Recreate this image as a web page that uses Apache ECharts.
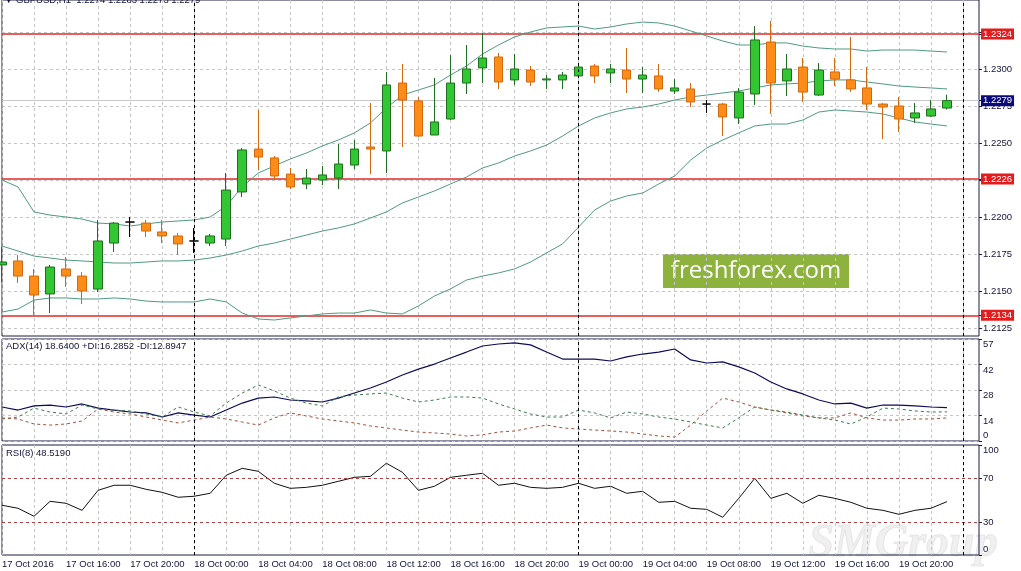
<!DOCTYPE html>
<html>
<head>
<meta charset="utf-8">
<script src="https://cdn.jsdelivr.net/npm/echarts/dist/echarts.min.js"></script>
<style>
  html, body { margin: 0; padding: 0; background: #fff; }
  #chart { width: 1021px; height: 571px; }
</style>
</head>
<body>
<div id="chart"></div>
<script>
// GBPUSD H1, 17 Oct 12:00 .. 19 Oct 23:00
var opens  = [1.21680,1.21707,1.21605,1.21484,1.21653,1.21605,1.21517,1.21828,1.21970,1.21963,
              1.21903,1.21876,1.21842,1.21828,1.21855,1.22173,1.22463,1.22403,1.22294,1.22227,
              1.22254,1.22267,1.22355,1.22477,1.22450,1.22909,1.22788,1.22558,1.22666,1.22909,
              1.23011,1.23085,1.22930,1.22997,1.22930,1.22930,1.22957,1.23024,1.22977,1.22997,
              1.22936,1.22957,1.22855,1.22869,1.22767,1.22767,1.22673,1.22835,1.23186,1.22923,
              1.23017,1.22828,1.22984,1.22930,1.22876,1.22767,1.22754,1.22673,1.22686,1.22740];
var highs  = [1.21801,1.21747,1.21653,1.21680,1.21734,1.21632,1.21984,1.21970,1.22004,1.21984,
              1.21984,1.21896,1.21930,1.21889,1.22301,1.22470,1.22727,1.22416,1.22335,1.22328,
              1.22348,1.22497,1.22524,1.22774,1.22984,1.23038,1.22815,1.22943,1.23098,1.23166,
              1.23247,1.23112,1.23105,1.23024,1.22963,1.22984,1.23024,1.23038,1.23038,1.23146,
              1.23017,1.23038,1.22936,1.22909,1.22794,1.22774,1.22875,1.23294,1.23328,1.23105,
              1.23078,1.23044,1.23078,1.23220,1.23017,1.22774,1.22815,1.22774,1.22794,1.22830];
var lows   = [1.21565,1.21558,1.21342,1.21355,1.21531,1.21416,1.21497,1.21767,1.21869,1.21869,
              1.21828,1.21747,1.21761,1.21808,1.21808,1.22139,1.22321,1.22254,1.22193,1.22193,
              1.22220,1.22193,1.22328,1.22294,1.22301,1.22477,1.22544,1.22558,1.22659,1.22835,
              1.22909,1.22869,1.22896,1.22889,1.22869,1.22869,1.22950,1.22909,1.22909,1.22842,
              1.22842,1.22849,1.22835,1.22747,1.22707,1.22551,1.22632,1.22761,1.22700,1.22821,
              1.22781,1.22821,1.22889,1.22849,1.22727,1.22531,1.22578,1.22639,1.22680,1.22730];
var closes = [1.21700,1.21605,1.21477,1.21666,1.21605,1.21504,1.21842,1.21963,1.21970,1.21909,
              1.21876,1.21822,1.21842,1.21876,1.22186,1.22457,1.22409,1.22281,1.22207,1.22267,
              1.22288,1.22362,1.22463,1.22463,1.22896,1.22794,1.22551,1.22646,1.22909,1.23004,
              1.23078,1.22916,1.23004,1.22916,1.22937,1.22963,1.23017,1.22957,1.23004,1.22936,
              1.22963,1.22869,1.22876,1.22781,1.22767,1.22680,1.22848,1.23200,1.22909,1.23004,
              1.22848,1.22997,1.22936,1.22869,1.22767,1.22747,1.22666,1.22707,1.22734,1.22790];

var bbUpper  = [1.22254,1.22207,1.22038,1.22017,1.22004,1.21990,1.21963,1.21957,1.21943,1.21957,
                1.21970,1.21977,1.21984,1.22004,1.22078,1.22207,1.22301,1.22349,1.22396,1.22436,
                1.22484,1.22524,1.22572,1.22639,1.22740,1.22828,1.22862,1.22896,1.22963,1.23024,
                1.23105,1.23166,1.23220,1.23254,1.23281,1.23288,1.23294,1.23274,1.23288,1.23308,
                1.23321,1.23315,1.23294,1.23261,1.23227,1.23193,1.23166,1.23166,1.23180,1.23180,
                1.23159,1.23146,1.23139,1.23139,1.23125,1.23132,1.23132,1.23132,1.23125,1.23119];
var bbMiddle = [1.21808,1.21774,1.21740,1.21727,1.21713,1.21707,1.21700,1.21693,1.21693,1.21700,
                1.21707,1.21707,1.21713,1.21727,1.21747,1.21774,1.21808,1.21828,1.21855,1.21882,
                1.21909,1.21930,1.21957,1.21997,1.22038,1.22099,1.22139,1.22180,1.22227,1.22274,
                1.22335,1.22369,1.22416,1.22450,1.22490,1.22551,1.22619,1.22673,1.22707,1.22734,
                1.22747,1.22767,1.22794,1.22815,1.22828,1.22842,1.22855,1.22876,1.22896,1.22903,
                1.22909,1.22923,1.22930,1.22930,1.22916,1.22903,1.22889,1.22882,1.22876,1.22869];
var bbLower  = [1.21362,1.21382,1.21443,1.21457,1.21457,1.21450,1.21450,1.21457,1.21450,1.21436,
                1.21430,1.21430,1.21430,1.21450,1.21430,1.21355,1.21315,1.21308,1.21322,1.21335,
                1.21349,1.21355,1.21355,1.21376,1.21355,1.21349,1.21403,1.21470,1.21518,1.21578,
                1.21605,1.21626,1.21653,1.21700,1.21761,1.21822,1.21936,1.22051,1.22112,1.22146,
                1.22166,1.22227,1.22281,1.22389,1.22470,1.22524,1.22572,1.22619,1.22632,1.22632,
                1.22659,1.22713,1.22727,1.22720,1.22713,1.22700,1.22673,1.22646,1.22632,1.22619];

var adx     = [19.0,17.3,19.6,20.1,19.0,20.7,18.4,17.3,16.2,15.7,13.4,15.7,14.5,13.4,17.3,21.2,24.0,24.6,22.9,22.4,
               21.8,24.0,26.8,29.6,33.0,36.9,40.2,43.0,46.4,49.7,53.1,54.2,54.8,53.7,49.7,45.8,45.8,45.8,44.7,47.0,
               48.6,49.7,51.4,45.3,43.6,44.2,41.4,38.0,33.0,29.1,26.3,22.9,20.7,21.2,18.4,20.1,20.1,19.6,19.0,18.64];
var plusDI  = [12.3,13.4,18.4,16.2,15.1,20.1,17.9,17.3,16.8,15.1,13.4,19.0,16.2,14.0,21.2,26.8,31.3,28.0,24.0,21.2,
               19.6,24.6,25.7,26.3,26.8,24.0,21.8,22.9,24.6,24.6,24.0,20.7,17.9,15.1,13.4,13.4,17.3,15.7,12.9,16.2,
               15.1,13.4,12.3,10.6,8.9,7.3,12.9,19.0,17.3,16.2,14.5,12.9,11.7,9.5,13.4,18.4,17.9,16.8,16.2,16.29];
var minusDI = [12.9,12.3,9.5,8.9,9.5,11.2,17.9,16.2,15.1,13.4,11.7,10.1,11.7,13.4,12.3,10.6,8.9,12.9,15.7,14.0,
               12.3,11.2,10.1,8.4,7.3,6.1,5.0,4.5,3.9,2.8,3.4,5.0,5.6,7.3,8.9,7.3,6.7,6.1,5.6,5.0,
               3.9,2.8,2.2,8.9,16.8,24.0,21.8,19.0,17.3,15.7,14.0,12.9,12.9,15.7,12.9,11.7,11.7,12.3,12.3,12.89];
var rsi     = [45.2,42.5,35.2,48.8,47.0,40.6,58.8,63.4,63.4,59.7,57.0,52.5,53.4,56.1,72.5,78.8,76.1,65.2,60.6,61.5,
               63.4,67.0,70.6,71.5,83.4,75.2,58.8,62.5,70.6,72.5,74.3,63.4,65.2,61.5,60.6,61.5,65.2,60.6,62.5,56.1,
               57.9,47.9,48.8,42.5,41.5,34.3,51.5,69.7,51.5,56.1,47.0,54.3,51.5,47.9,42.5,40.6,37.0,40.6,42.5,48.52];

var levels = [1.2324, 1.2226, 1.2134];
var bid = [1.2279];
var priceTicks = [1.2125, 1.2150, 1.2175, 1.2200, 1.2225, 1.2250, 1.2275, 1.2300, 1.2325];
var adxTicks = [0, 14.25, 28.5, 42.75, 57];
var rsiTicks = [0, 30, 70, 100];
var rsiLevels = [70, 30];
var days = ['17 Oct', '18 Oct', '19 Oct', '20 Oct'];
var daySeparators = ['18 Oct 00:00', '19 Oct 00:00', '20 Oct 00:00'];

// hourly slots, two empty ones at the right (chart shift)
var times = [];
for (var k = 0; k < 62; k++) {
    var h = 12 + k;
    var hh = h % 24;
    times.push(days[Math.floor(h / 24)] + ' ' + (hh < 10 ? '0' : '') + hh + ':00');
}

var candles = opens.map(function (o, i) {
    return [o, closes[i], lows[i], highs[i]];
});

var fontFamily = 'Liberation Sans';
var textColor = '#14143c';
var borderColor = '#1c1c44';
var bandColor = '#4f9a80';
var priceMin = 1.2120, priceMax = 1.2347;
var gridLine = { color: '#c6c6c6', type: [3, 3], width: 1 };
var sepLine = { color: '#000', type: [3, 3], width: 1 };

function separatorLines() {
    return daySeparators.map(function (d) {
        return { xAxis: d, lineStyle: sepLine, label: { show: false } };
    });
}

// extra price axis on the main pane: draws level lines + boxed labels
function levelAxis(values, lineColor, lineWidth, boxColor) {
    return {
        type: 'value', gridIndex: 0, position: 'right', min: priceMin, max: priceMax, scale: true, z: 1,
        axisLine: { show: false },
        axisTick: { show: true, length: 3, customValues: values, lineStyle: { color: borderColor } },
        axisLabel: {
            customValues: values, margin: 2,
            formatter: function (v) { return v.toFixed(4); },
            backgroundColor: boxColor, color: '#fff', padding: [1, 2, 0, 2],
            fontFamily: fontFamily, fontSize: 9.5
        },
        splitLine: { show: true, lineStyle: { color: lineColor, type: 'solid', width: lineWidth } }
    };
}

function makeX(gridIndex, withLabels) {
    return {
        type: 'category',
        gridIndex: gridIndex,
        data: times,
        boundaryGap: false,
        axisLine: { show: false },
        axisTick: { show: false },
        axisLabel: withLabels ? {
            show: true,
            interval: function (i) { return i % 4 === 0 && i < 60; },
            formatter: function (v, i) { return i === 0 ? '17 Oct 2016' : v; },
            align: 'left',
            margin: 4,
            hideOverlap: false,
            fontFamily: fontFamily,
            fontSize: 9.5,
            color: textColor
        } : { show: false },
        splitLine: {
            show: true,
            interval: function (i) { return i % 2 === 0; },
            lineStyle: gridLine
        }
    };
}

var richLabels = {
    dn: { padding: [11, 0, 0, 0], fontFamily: fontFamily, fontSize: 9.5, color: textColor },
    up: { padding: [0, 0, 11, 0], fontFamily: fontFamily, fontSize: 9.5, color: textColor },
    c: { fontFamily: fontFamily, fontSize: 9.5, color: textColor }
};

var chart = echarts.init(document.getElementById('chart'));

var option = {
    animation: false,
    backgroundColor: '#fff',
    title: [
        { text: '\u25BC GBPUSD,H1  1.2274 1.2283 1.2273 1.2279', left: 4, top: -5, padding: 0,
          textStyle: { fontFamily: fontFamily, fontSize: 9.5, fontWeight: 'normal', color: textColor } },
        { text: 'ADX(14) 18.6400 +DI:16.2852 -DI:12.8947', left: 6, top: 341, padding: 0,
          textStyle: { fontFamily: fontFamily, fontSize: 9.5, fontWeight: 'normal', color: textColor } },
        { text: 'RSI(8) 48.5190', left: 6, top: 448, padding: 0,
          textStyle: { fontFamily: fontFamily, fontSize: 9.5, fontWeight: 'normal', color: textColor } }
    ],
    grid: [
        { left: 2, right: 42, top: 0, height: 336, show: true, borderColor: borderColor, borderWidth: 1, backgroundColor: 'transparent', outerBoundsMode: 'none' },
        { left: 2, right: 42, top: 339, height: 102, show: true, borderColor: borderColor, borderWidth: 1, backgroundColor: 'transparent', outerBoundsMode: 'none' },
        { left: 2, right: 42, top: 445, height: 110, show: true, borderColor: borderColor, borderWidth: 1, backgroundColor: 'transparent', outerBoundsMode: 'none' }
    ],
    xAxis: [makeX(0, false), makeX(1, false), makeX(2, true)],
    yAxis: [
        {
            type: 'value', gridIndex: 0, position: 'right', min: priceMin, max: priceMax, scale: true,
            axisLine: { show: false },
            axisTick: { show: true, length: 3, customValues: priceTicks, lineStyle: { color: borderColor } },
            axisLabel: { customValues: priceTicks, margin: 4, fontFamily: fontFamily, fontSize: 9.5, color: textColor,
                         formatter: function (v) { return v.toFixed(4); } },
            splitLine: { show: true, lineStyle: gridLine }
        },
        {
            type: 'value', gridIndex: 1, position: 'right', min: 0, max: 57,
            axisLine: { show: false },
            axisTick: { show: true, length: 3, customValues: adxTicks, lineStyle: { color: borderColor } },
            axisLabel: { customValues: adxTicks, margin: 4, rich: richLabels,
                         formatter: function (v) {
                             var n = Math.floor(v + 1e-9);
                             return n === 0 ? '{up|0}' : '{dn|' + n + '}';
                         } },
            splitLine: { show: true, lineStyle: gridLine }
        },
        {
            type: 'value', gridIndex: 2, position: 'right', min: 0, max: 100,
            axisLine: { show: false },
            axisTick: { show: true, length: 3, customValues: rsiTicks, lineStyle: { color: borderColor } },
            axisLabel: { customValues: rsiTicks, margin: 4, rich: richLabels,
                         formatter: function (v) {
                             if (v === 0) return '{up|0}';
                             if (v === 100) return '{dn|100}';
                             return '{c|' + v + '}';
                         } },
            splitLine: { show: false }
        },
        levelAxis(bid, '#c8c8c8', 1, '#0a0a78'),
        levelAxis(levels, '#e02a2a', 1.5, '#e41c1c')
    ],
    series: [
        {
            type: 'candlestick',
            xAxisIndex: 0, yAxisIndex: 0,
            data: candles,
            barWidth: 9,
            clip: true,
            z: 3,
            itemStyle: {
                color: '#33c633', color0: '#ff8c17',
                borderColor: '#1e6f1e', borderColor0: '#cf6a0e',
                borderColorDoji: '#000', borderWidth: 1
            },
            markLine: {
                silent: true,
                symbol: ['none', 'none'],
                data: separatorLines()
            }
        },
        { type: 'line', name: 'BB upper', xAxisIndex: 0, yAxisIndex: 0, data: bbUpper, symbol: 'none',
          lineStyle: { color: bandColor, width: 1 } },
        { type: 'line', name: 'BB middle', xAxisIndex: 0, yAxisIndex: 0, data: bbMiddle, symbol: 'none',
          lineStyle: { color: bandColor, width: 1 } },
        { type: 'line', name: 'BB lower', xAxisIndex: 0, yAxisIndex: 0, data: bbLower, symbol: 'none',
          lineStyle: { color: bandColor, width: 1 } },
        { type: 'line', name: 'ADX', xAxisIndex: 1, yAxisIndex: 1, data: adx, symbol: 'none',
          lineStyle: { color: '#0c0c5a', width: 1.2 },
          markLine: { silent: true, symbol: ['none', 'none'], data: separatorLines() } },
        { type: 'line', name: '+DI', xAxisIndex: 1, yAxisIndex: 1, data: plusDI, symbol: 'none',
          lineStyle: { color: '#3c7a4c', width: 1, type: [3, 3] } },
        { type: 'line', name: '-DI', xAxisIndex: 1, yAxisIndex: 1, data: minusDI, symbol: 'none',
          lineStyle: { color: '#a5503c', width: 1, type: [3, 3] } },
        { type: 'line', name: 'RSI', xAxisIndex: 2, yAxisIndex: 2, data: rsi, symbol: 'none',
          lineStyle: { color: '#111', width: 1 },
          markLine: {
              silent: true, symbol: ['none', 'none'],
              data: rsiLevels.map(function (v) {
                  return { yAxis: v, lineStyle: { color: '#b04040', type: [3, 3], width: 1 }, label: { show: false } };
              }).concat(separatorLines())
          } }
    ],
    graphic: [
        {
            type: 'group', left: 663, top: 254, silent: true,
            children: [
                { type: 'rect', shape: { x: 0, y: 0, width: 186, height: 34 }, style: { fill: '#8db33e' } },
                { type: 'text', x: 93, y: 17, style: { text: 'freshforex.com', fill: '#fff', font: '24px "Open Sans"',
                  textAlign: 'center', textVerticalAlign: 'middle' } }
            ]
        },
        {
            type: 'text', left: 808, top: 521, silent: true, z: -1,
            style: { text: 'SMGroup', fill: 'rgba(200,200,200,0.28)', stroke: 'rgba(170,170,170,0.22)', lineWidth: 1,
                     font: 'italic bold 46px "Liberation Serif"' }
        }
    ]
};

chart.setOption(option);
</script>
</body>
</html>
